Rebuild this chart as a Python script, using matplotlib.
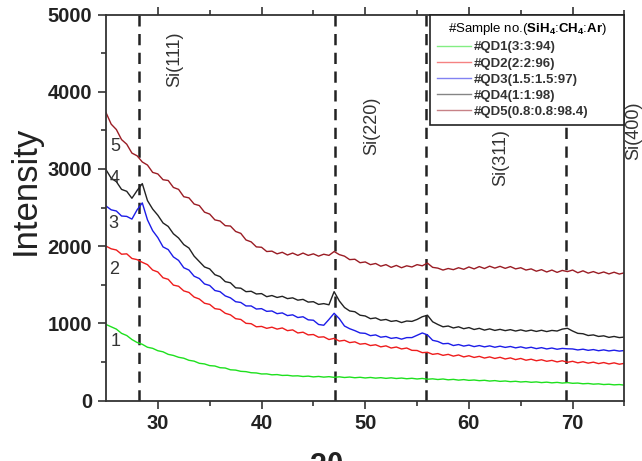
import numpy as np
import matplotlib
matplotlib.use("Agg")
import matplotlib.pyplot as plt

plt.rcParams['font.family'] = ['Liberation Sans', 'DejaVu Sans']
plt.rcParams['mathtext.fontset'] = 'custom'
plt.rcParams['mathtext.rm'] = 'Liberation Sans'
plt.rcParams['mathtext.bf'] = 'Liberation Sans:bold'

# 2theta grid, 0.5 deg steps from 25 to 75
two_theta = np.arange(25, 75.01, 0.5)

qd1 = [985, 955, 925, 870, 842, 790, 752, 728, 690, 676, 645, 631, 598, 584, 560, 548, 521, 510, 482, 474,
       452, 447, 425, 421, 398, 394, 378, 374, 360, 357, 344, 345, 333, 336, 325, 327, 318, 320, 311, 316,
       306, 312, 303, 309, 300, 307, 298, 304, 295, 301, 292, 299, 290, 296, 287, 294, 285, 291, 282, 288,
       279, 286, 276, 281, 272, 279, 268, 274, 264, 271, 261, 266, 257, 262, 252, 258, 248, 253, 244, 249,
       240, 245, 236, 241, 232, 238, 229, 235, 226, 232, 223, 226, 217, 221, 212, 216, 207, 211, 203, 207, 199]
qd2 = [2000, 1965, 1950, 1895, 1900, 1840, 1825, 1790, 1760, 1690, 1665, 1590, 1570, 1495, 1480, 1420, 1400, 1340, 1315, 1260,
       1245, 1190, 1180, 1130, 1110, 1060, 1050, 1000, 995, 955, 960, 935, 950, 925, 940, 905, 915, 875, 885, 850,
       855, 820, 825, 790, 805, 770, 780, 750, 760, 730, 738, 712, 722, 695, 708, 680, 693, 668, 680, 650,
       648, 620, 625, 598, 608, 585, 598, 575, 590, 565, 580, 558, 572, 550, 565, 545, 560, 538, 552, 530,
       545, 522, 535, 515, 528, 508, 520, 500, 515, 495, 508, 488, 502, 484, 497, 478, 492, 474, 488, 470, 482]
qd3 = [2520, 2470, 2455, 2390, 2385, 2350, 2470, 2560, 2340, 2200, 2110, 1990, 1955, 1860, 1815, 1720, 1690, 1610, 1580, 1510,
       1490, 1425, 1410, 1355, 1330, 1280, 1270, 1225, 1225, 1185, 1190, 1155, 1160, 1125, 1135, 1100, 1110, 1075, 1085, 1045,
       1040, 985, 975, 1050, 1130, 1060, 965, 930, 905, 875, 870, 840, 850, 820, 830, 805, 815, 795, 815, 815,
       845, 875, 850, 780, 765, 735, 740, 712, 725, 705, 718, 698, 712, 695, 708, 690, 704, 688, 700, 682,
       695, 678, 690, 672, 685, 668, 680, 664, 675, 670, 668, 655, 665, 650, 660, 645, 656, 642, 652, 640, 648]
qd4 = [2990, 2880, 2835, 2735, 2710, 2620, 2720, 2810, 2590, 2480, 2400, 2300, 2255, 2160, 2105, 2020, 1975, 1870, 1800, 1730,
       1705, 1630, 1605, 1540, 1525, 1460, 1455, 1410, 1415, 1380, 1385, 1345, 1360, 1335, 1350, 1320, 1330, 1300, 1310, 1275,
       1280, 1245, 1255, 1240, 1410, 1290, 1205, 1160, 1150, 1105, 1095, 1060, 1070, 1040, 1050, 1025, 1035, 1010, 1030, 1025,
       1050, 1085, 1105, 1020, 985, 955, 965, 940, 955, 930, 945, 920, 935, 912, 928, 908, 922, 905, 918, 900,
       915, 898, 912, 895, 910, 893, 908, 900, 925, 935, 900, 870, 865, 842, 850, 830, 838, 818, 830, 815, 822]
qd5 = [3730, 3580, 3510, 3380, 3320, 3205, 3170, 3090, 3050, 2955, 2935, 2860, 2850, 2760, 2735, 2640, 2625, 2545, 2525, 2440,
       2415, 2340, 2325, 2265, 2260, 2190, 2165, 2080, 2055, 1990, 1985, 1930, 1935, 1900, 1920, 1885, 1910, 1880, 1910, 1880,
       1900, 1870, 1895, 1880, 1930, 1890, 1870, 1825, 1830, 1785, 1795, 1760, 1775, 1740, 1760, 1725, 1750, 1720, 1745, 1730,
       1760, 1745, 1780, 1725, 1715, 1690, 1710, 1695, 1720, 1700, 1730, 1705, 1735, 1710, 1740, 1715, 1738, 1712, 1735, 1705,
       1720, 1690, 1705, 1675, 1695, 1665, 1690, 1660, 1685, 1670, 1690, 1655, 1680, 1650, 1670, 1645, 1665, 1640, 1662, 1638, 1655]

series = [qd1, qd2, qd3, qd4, qd5]
labels = ['#QD1(3:3:94)', '#QD2(2:2:96)', '#QD3(1.5:1.5:97)', '#QD4(1:1:98)', '#QD5(0.8:0.8:98.4)']
colors = ['#1ee01e', '#ee1c1c', '#1c1ce8', '#222222', '#9a1c24']
curve_nums = ['1', '2', '3', '4', '5']
num_pos = [(25.9, 760), (25.8, 1700), (25.7, 2290), (25.8, 2880), (25.9, 3290)]

peaks = [28.2, 47.1, 55.9, 69.4]
peak_names = ['Si(111)', 'Si(220)', 'Si(311)', 'Si(400)']
peak_text_pos = [(31.6, 4420), (50.6, 3560), (63.1, 3150), (75.9, 3500)]

fig = plt.figure(figsize=(6.42, 4.61), dpi=100)
ax = fig.add_axes([0.1651, 0.1312, 0.8076, 0.8373])

for y, lab, c in zip(series, labels, colors):
    ax.plot(two_theta, y, color=c, lw=1.0, label=lab)

for p in peaks:
    ax.axvline(p, color='#222222', lw=1.8, ls=(0, (4.5, 3)), zorder=1)

for (tx, ty), name in zip(peak_text_pos, peak_names):
    ax.text(tx, ty, name, rotation=90, fontsize=13, color='#333333', ha='center', va='center',
            clip_on=False)

for (tx, ty), n in zip(num_pos, curve_nums):
    ax.text(tx, ty, n, fontsize=13, color='#333333', ha='center', va='center')

ax.set_xlim(25, 75)
ax.set_ylim(0, 5000)
ax.set_xticks([30, 40, 50, 60, 70])
ax.set_xticks([35, 45, 55, 65, 75], minor=True)
ax.set_yticks([0, 1000, 2000, 3000, 4000, 5000])
ax.set_yticks([500, 1500, 2500, 3500, 4500], minor=True)
ax.tick_params(which='both', direction='out', color='#333333', width=1.2, top=True, right=False)
ax.tick_params(which='major', length=6)
ax.tick_params(which='minor', length=3.5)
ax.tick_params(axis='both', labelsize=14.5, pad=4)
for lab in ax.get_xticklabels() + ax.get_yticklabels():
    lab.set_fontweight('bold')
    lab.set_color('#222222')
for s in ax.spines.values():
    s.set_color('#333333')
    s.set_linewidth(1.3)

ax.set_ylabel('Intensity', fontsize=25, color='#222222')
ax.yaxis.set_label_coords(-0.124, 0.545)
fig.text(327 / 642, -0.031, '2θ', fontsize=22, fontweight='bold', color='#222222',
         ha='center', va='baseline')

leg = ax.legend(loc='upper left', bbox_to_anchor=(0.625, 0.0, 0.375, 1.0), mode='expand',
                borderaxespad=0,
                fontsize=9.5, title=r'#Sample no.($\mathbf{SiH_4}$:$\mathbf{CH_4}$:$\mathbf{Ar}$)',
                title_fontsize=9.5, fancybox=False, edgecolor='#222222', framealpha=1,
                handlelength=2.6, labelspacing=0.3, borderpad=0.5, handletextpad=0.2)
leg.get_frame().set_linewidth(1.2)
for t in leg.get_texts():
    t.set_fontweight('bold')
    t.set_color('#333333')
for h in leg.legend_handles:
    h.set_alpha(0.55)
leg.set_zorder(5)

fig.savefig('out.png', dpi=100)
